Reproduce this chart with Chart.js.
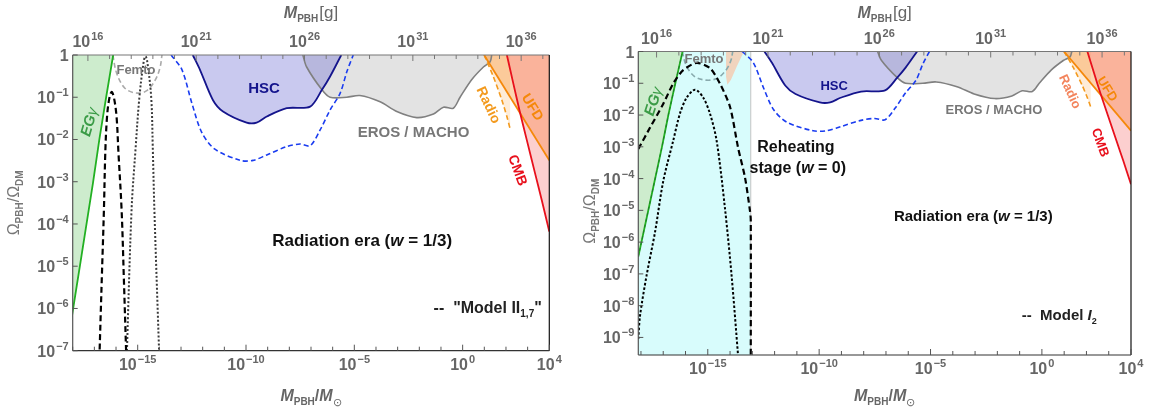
<!DOCTYPE html>
<html lang="en">
<head>
<meta charset="UTF-8" />
<title>PBH constraints</title>
<script src="https://cdn.jsdelivr.net/npm/chart.js"></script>
<style>
  body { margin: 0; background: #fff; width: 1150px; height: 412px; overflow: hidden; }
  .panel { position: absolute; top: 0; width: 575px; height: 412px; }
  #left { left: 0; }
  #right { left: 575px; }
</style>
</head>
<body>
<div class="panel" id="left"><canvas id="chartLeft" width="575" height="412"></canvas></div>
<div class="panel" id="right"><canvas id="chartRight" width="575" height="412"></canvas></div>
<script>
// x: M_PBH / M_sun, y: Omega_PBH / Omega_DM
const MSUN_G = 1.989e33;

const egMass  = [7.6e-19, 8.5e-18, 1.7e-17, 3.5e-17, 7.4e-17];
const egOmega = [3.5e-7, 8.9e-4, 1e-2, 1e-1, 1];

const femtoMass  = [7.1e-17, 1.07e-16, 2.5e-16, 7.9e-16, 2.5e-15, 6.3e-15, 1.07e-14, 1.32e-14];
const femtoOmega = [1, 0.37, 0.166, 0.126, 0.141, 0.25, 0.5, 1];

const hscMass  = [3.5e-13, 7.6e-13, 3.0e-12, 8.7e-12, 1.07e-10, 3.1e-10, 9.1e-10, 7.6e-9, 9.1e-8, 3.2e-7, 7.6e-7, 2.5e-6];
const hscOmega = [1, 0.44, 0.085, 0.046, 0.025, 0.025, 0.035, 0.055, 0.06, 0.15, 0.31, 1];

const hscFutureMass  = [3.5e-14, 1.1e-13, 3.2e-13, 8.9e-13, 3.5e-12, 5.4e-11, 2.1e-10, 9.1e-10, 7.6e-9, 3.1e-8, 9.1e-8, 2.6e-7, 7.6e-7, 2.2e-6, 4.5e-6, 8.9e-6];
const hscFutureOmega = [1, 0.45, 0.071, 0.015, 0.006, 0.0032, 0.0032, 0.0043, 0.0068, 0.0078, 0.0071, 0.0166, 0.05, 0.123, 0.4, 1];

const erosMass  = [4.2e-8, 6.3e-8, 3.2e-7, 7.6e-7, 4.5e-6, 1.8e-5, 1.55e-4, 9.1e-4, 7.6e-3, 0.045, 0.13, 0.37, 0.76, 2.6, 9.1, 18.6, 22];
const erosOmega = [1, 0.52, 0.15, 0.10, 0.10, 0.11, 0.078, 0.046, 0.033, 0.04, 0.058, 0.055, 0.1, 0.26, 0.52, 0.69, 1];

const radioMass  = [10, 10.7, 26, 65, 110, 155];
const radioOmega = [1, 0.91, 0.31, 0.085, 0.035, 0.018];

const ufdMass  = [9.8, 1e4];
const ufdOmega = [1, 3.2e-3];

const cmbMass  = [110, 219, 417, 912, 2190, 4470, 1e4];
const cmbOmega = [1, 0.21, 0.05, 0.0098, 0.0016, 3.7e-4, 6.6e-5];

// left panel: "Model II_1,7"
const modelIIMass  = [1.7e-17, 2.2e-17, 2.75e-17, 3.2e-17, 3.8e-17, 4.8e-17, 6.3e-17, 8.3e-17, 1.07e-16, 1.29e-16, 1.82e-16, 2.3e-16, 3.0e-16];
const modelIIOmega = [6.3e-8, 5e-6, 2e-4, 5e-3, 0.032, 0.089, 0.135, 0.089, 0.032, 5e-3, 2e-4, 5e-6, 6.3e-8];
const modelIIDotMass  = [3.1e-16, 5.2e-16, 7.9e-16, 1.2e-15, 1.9e-15, 2.3e-15, 2.75e-15, 4.2e-15, 5e-15, 5.9e-15, 1e-14];
const modelIIDotOmega = [6.3e-8, 2.1e-4, 5.6e-3, 0.1, 0.71, 0.93, 0.71, 0.1, 5.6e-3, 2.1e-4, 6.3e-8];

// right panel: Model I_2
const modelIMass  = [7.6e-19, 2.6e-18, 1.02e-17, 2.8e-17, 7.9e-17, 3.2e-16, 1.26e-15, 3.5e-15, 1e-14, 2.3e-14, 4.7e-14, 7.9e-14, 8.5e-14, 8.5e-14];
const modelIOmega = [8.5e-4, 4.1e-3, 0.023, 0.098, 0.26, 0.44, 0.30, 0.098, 0.018, 9.3e-4, 1.07e-4, 9.3e-6, 5e-6, 1e-10];
const modelIDotMass  = [7.6e-19, 9.1e-19, 1.8e-18, 4.3e-18, 1e-17, 2.8e-17, 5.6e-17, 1.12e-16, 2.7e-16, 6.3e-16, 1.26e-15, 2.5e-15, 5.9e-15, 1.17e-14, 2.3e-14];
const modelIDotOmega = [8.9e-10, 4.9e-9, 9.1e-8, 2.1e-6, 8.3e-5, 1.55e-3, 0.011, 0.035, 0.063, 0.035, 0.011, 1.55e-3, 1.17e-5, 9.1e-8, 2.6e-10];

const tanMass  = [6.6e-15, 6.6e-15, 7.6e-15, 1.1e-14, 2e-14, 4.2e-14];
const tanOmega = [1, 0.16, 0.09, 0.13, 0.34, 1];

const reheatEndMass = 8.5e-14;

const bottomTickLabels = [-15, -10, -5, 0, 4];
const topTickLabels = [16, 21, 26, 31, 36];

const FONT = "'Liberation Sans', Arial, sans-serif";
const fnt = (style, size) => `${style} ${size}px ${FONT}`;

function pts(m, o) { return m.map((x, i) => ({ x: x, y: o[i] })); }

function line(m, o, color, width, dash, tension, order) {
  return { data: pts(m, o), showLine: true, borderColor: color, borderWidth: width,
           borderDash: dash, tension: tension, pointRadius: 0, fill: false, order: order };
}
function area(points, color, order, tension) {
  return { data: points, showLine: true, borderWidth: 0, borderColor: 'rgba(0,0,0,0)',
           backgroundColor: color, fill: 'shape', tension: tension || 0, pointRadius: 0, order: order };
}

function commonDatasets(femtoColor) {
  return [
    area(pts(egMass, egOmega).concat([{ x: egMass[0], y: 1 }]), '#cdeccd', 90),
    area(pts(erosMass, erosOmega), '#e3e3e3', 85, 0.3),
    area(pts(hscMass, hscOmega), 'rgba(100,100,210,0.35)', 80, 0.3),
    area(pts(radioMass, radioOmega).concat([{ x: radioMass[radioMass.length - 1], y: 1 }]), 'rgba(250,180,100,0.25)', 75),
    area(pts(ufdMass, ufdOmega).concat([{ x: ufdMass[1], y: 1 }]), 'rgba(248,150,60,0.4)', 70),
    area(pts(cmbMass, cmbOmega).concat([{ x: cmbMass[cmbMass.length - 1], y: 1 }]), 'rgba(245,110,110,0.33)', 65),
    line(erosMass, erosOmega, '#808080', 1.6, [], 0.3, 50),
    line(hscMass, hscOmega, '#14148c', 1.8, [], 0.3, 45),
    line(hscFutureMass, hscFutureOmega, '#1a3cf0', 1.6, [5, 3], 0.3, 40),
    line(femtoMass, femtoOmega, femtoColor, 1.6, [5, 3], 0.35, 35),
    line(radioMass, radioOmega, '#f39a1e', 1.6, [5, 3], 0.2, 30),
    line(ufdMass, ufdOmega, '#f5880a', 1.8, [], 0, 25),
    line(cmbMass, cmbOmega, '#e8101c', 1.8, [], 0.2, 20),
    line(egMass, egOmega, '#22b022', 1.8, [], 0.1, 15)
  ];
}

const leftDatasets = commonDatasets('#aaaaaa').concat([
  line(modelIIDotMass, modelIIDotOmega, '#3a3a3a', 2, [2, 2], 0.35, 10),
  line(modelIIMass, modelIIOmega, '#000000', 2.2, [6, 3.5], 0.35, 5)
]);

const rightDatasets = [
  area([{ x: 1e-19, y: 1e-11 }, { x: 1e-19, y: 10 }, { x: reheatEndMass, y: 10 }, { x: reheatEndMass, y: 1e-11 }], '#d8fcfc', 100),
  line([reheatEndMass, reheatEndMass], [1e-11, 10], '#c4c4c4', 1, [], 0, 99),
  area(pts(tanMass, tanOmega), '#f0d4be', 95, 0)
].concat(commonDatasets('#88aaad')).concat([
  line(egMass, egOmega, '#1f7a2a', 1, [3, 3], 0.1, 14),
  line(modelIDotMass, modelIDotOmega, '#000000', 2, [2.5, 2], 0.3, 10),
  line(modelIMass, modelIOmega, '#000000', 2.2, [6, 3.5], 0.25, 5)
]);

function powParts(k, big, small) {
  const e = k < 0 ? '\u2212' + (-k) : String(k);
  return [['10', fnt('bold', big)], [e, fnt('bold', small), -7, 0, 1]];
}

function drawRich(ctx, parts, x, y, align) {
  let w = 0;
  parts.forEach(p => { ctx.font = p[1]; w += ctx.measureText(p[0]).width + (p[4] || 0); });
  let cx = align === 'center' ? x - w / 2 : (align === 'right' ? x - w : x);
  ctx.textAlign = 'left';
  parts.forEach(p => {
    ctx.font = p[1];
    cx += (p[4] || 0);
    ctx.fillText(p[0], cx, y + (p[2] || 0));
    cx += ctx.measureText(p[0]).width;
  });
}

const axisPlugin = {
  id: 'mmaAxes',
  afterDatasetsDraw(chart) {
    const ctx = chart.ctx, a = chart.chartArea, s = chart.scales, cfg = chart.options.plugins.mmaAxes;
    ctx.save();
    ctx.textBaseline = 'alphabetic';
    // frame
    const edge = (x1, y1, x2, y2, c) => { ctx.strokeStyle = c; ctx.lineWidth = 1.2; ctx.beginPath(); ctx.moveTo(x1, y1); ctx.lineTo(x2, y2); ctx.stroke(); };
    edge(a.left, a.top, a.right, a.top, '#777');
    edge(a.right, a.top, a.right, a.bottom, '#111');
    edge(a.left, a.bottom, a.right, a.bottom, '#333');
    edge(a.left, a.top, a.left, a.bottom, '#555');
    ctx.lineWidth = 1;
    // bottom ticks (solar masses)
    ctx.fillStyle = '#666';
    for (let k = Math.ceil(Math.log10(s.x.min) - 1e-9); k <= 4; k++) {
      const px = s.x.getPixelForValue(Math.pow(10, k));
      const lab = bottomTickLabels.includes(k);
      ctx.strokeStyle = '#555';
      ctx.beginPath(); ctx.moveTo(px, a.bottom); ctx.lineTo(px, a.bottom - (lab ? 6 : 4)); ctx.stroke();
      if (lab) drawRich(ctx, powParts(k, 16, 11), px, a.bottom + 19, 'center');
    }
    // top ticks (grams)
    for (let k = Math.ceil(Math.log10(s.xg.min)); k <= Math.floor(Math.log10(s.xg.max)); k++) {
      const px = s.xg.getPixelForValue(Math.pow(10, k));
      const lab = topTickLabels.includes(k);
      ctx.strokeStyle = '#777';
      ctx.beginPath(); ctx.moveTo(px, a.top); ctx.lineTo(px, a.top + (lab ? 6 : 4)); ctx.stroke();
      if (lab) drawRich(ctx, powParts(k, 16, 11), px, a.top - 8, 'center');
    }
    // left ticks
    for (let k = 0; k >= Math.ceil(Math.log10(s.y.min)); k--) {
      const py = s.y.getPixelForValue(Math.pow(10, k));
      ctx.strokeStyle = '#555';
      ctx.beginPath(); ctx.moveTo(a.left, py); ctx.lineTo(a.left + 5, py); ctx.stroke();
      const parts = k === 0 ? [['1', fnt('bold', 16)]] : powParts(k, 16, 11);
      drawRich(ctx, parts, a.left - 4, py + 6, 'right');
    }
    // axis titles
    const cx = (a.left + a.right) / 2;
    ctx.fillStyle = '#666';
    drawRich(ctx, [['M', fnt('bold italic', 16)], ['PBH', fnt('bold', 10), 4], ['[g]', fnt('', 17), 0, 0, 1]], cx, 18, 'center');
    drawRich(ctx, [['M', fnt('bold italic', 16)], ['PBH', fnt('bold', 10), 4], ['/', fnt('bold', 16)], ['M', fnt('bold italic', 16)], ['\u2299', fnt('', 11), 5]], cx, 401, 'center');
    ctx.save();
    ctx.translate(cfg.yTitleX, (a.top + a.bottom) / 2 + cfg.yTitleShift);
    ctx.rotate(-Math.PI / 2);
    ctx.fillStyle = '#777';
    drawRich(ctx, [['\u03A9', fnt('', 16)], ['PBH', fnt('bold', 10), 4], ['/', fnt('', 16)], ['\u03A9', fnt('', 16)], ['DM', fnt('bold', 10), 4]], 0, 5, 'center');
    ctx.restore();
    // in-plot labels
    cfg.labels.forEach(l => {
      ctx.save();
      ctx.translate(s.x.getPixelForValue(l.x), s.y.getPixelForValue(l.y));
      ctx.rotate((l.rot || 0) * Math.PI / 180);
      ctx.fillStyle = l.color;
      drawRich(ctx, l.parts, 0, 5, l.align || 'center');
      ctx.restore();
    });
    ctx.restore();
  }
};

function makeChart(id, datasets, xMin, yMin, padding, yTitleX, yTitleShift, labels) {
  return new Chart(document.getElementById(id), {
    type: 'scatter',
    data: { datasets: datasets },
    options: {
      responsive: false, animation: false, events: [], devicePixelRatio: 1,
      layout: { padding: padding },
      scales: {
        x: { type: 'logarithmic', min: xMin, max: 1e4, display: false },
        xg: { type: 'logarithmic', position: 'top', min: xMin * MSUN_G, max: 1e4 * MSUN_G, display: false },
        y: { type: 'logarithmic', min: yMin, max: 1, display: false }
      },
      plugins: {
        legend: { display: false }, tooltip: { enabled: false },
        mmaAxes: { labels: labels, yTitleX: yTitleX, yTitleShift: yTitleShift }
      }
    },
    plugins: [axisPlugin]
  });
}

const leftLabels = [
  { parts: [['EG', fnt('bold italic', 15)], ['\u03B3', fnt('italic', 15)]], x: 5.6e-18, y: 0.026, rot: -74, color: '#3a9b46' },
  { parts: [['Femto', fnt('bold', 13)]], x: 8.3e-16, y: 0.47, color: '#777' },
  { parts: [['HSC', fnt('bold', 15)]], x: 6.8e-10, y: 0.166, color: '#14148c' },
  { parts: [['EROS / MACHO', fnt('bold', 15)]], x: 5.4e-3, y: 0.015, color: '#777' },
  { parts: [['Radio', fnt('bold', 14)]], x: 16.6, y: 0.066, rot: 65, color: '#f39a1e' },
  { parts: [['UFD', fnt('bold', 14)]], x: 1780, y: 0.059, rot: 58, color: '#f5880a' },
  { parts: [['CMB', fnt('bold', 14)]], x: 363, y: 1.9e-3, rot: 70, color: '#e8101c' },
  { parts: [['Radiation era (', fnt('bold', 17)], ['w', fnt('bold italic', 17)], [' = 1/3)', fnt('bold', 17)]], x: 2.3e-5, y: 4e-5, color: '#111' },
  { parts: [['--  "Model II', fnt('bold', 16)], ['1,7', fnt('bold', 10), 4], ['"', fnt('bold', 16)]], x: 4500, y: 1e-6, align: 'right', color: '#222' }
];

const rightLabels = [
  { parts: [['EG', fnt('bold italic', 15)], ['\u03B3', fnt('italic', 15)]], x: 3.5e-18, y: 0.027, rot: -72, color: '#3a9b46' },
  { parts: [['Femto', fnt('bold', 13)]], x: 6.8e-16, y: 0.62, color: '#777' },
  { parts: [['HSC', fnt('bold', 13)]], x: 4.7e-10, y: 0.087, color: '#14148c' },
  { parts: [['EROS / MACHO', fnt('bold', 13)]], x: 7e-3, y: 0.016, color: '#777' },
  { parts: [['Radio', fnt('bold', 13)]], x: 20, y: 0.056, rot: 65, color: '#f3845c' },
  { parts: [['UFD', fnt('bold', 13)]], x: 930, y: 0.069, rot: 58, color: '#f5880a' },
  { parts: [['CMB', fnt('bold', 13)]], x: 457, y: 1.4e-3, rot: 70, color: '#e8101c' },
  { parts: [['Reheating', fnt('bold', 16)]], x: 9.1e-12, y: 1e-3, color: '#111' },
  { parts: [['stage (', fnt('bold', 16)], ['w', fnt('bold italic', 16)], [' = 0)', fnt('bold', 16)]], x: 1.1e-11, y: 2.1e-4, color: '#111' },
  { parts: [['Radiation era (', fnt('bold', 15)], ['w', fnt('bold italic', 15)], [' = 1/3)', fnt('bold', 15)]], x: 8.3e-4, y: 6.5e-6, color: '#111' },
  { parts: [['--  Model ', fnt('bold', 15)], ['I', fnt('bold italic', 15)], ['2', fnt('bold', 9), 4]], x: 290, y: 5e-9, align: 'right', color: '#222' }
];

makeChart('chartLeft', leftDatasets, 1e-18, 1e-7, { left: 72.7, top: 55, right: 25.7, bottom: 61.3 }, 14, 0, leftLabels);
makeChart('chartRight', rightDatasets, 7.6e-19, 2.8e-10, { left: 63.3, top: 51.5, right: 19, bottom: 57 }, 15, 8, rightLabels);
</script>
</body>
</html>
